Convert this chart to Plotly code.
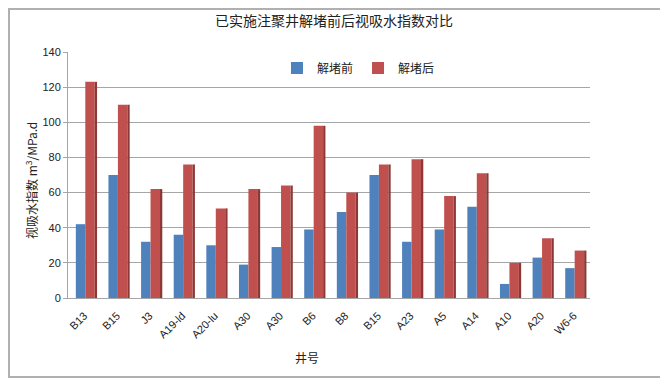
import plotly.graph_objects as go

wells = ["B13", "B15", "J3", "A19-ld", "A20-lu", "A30", "A30", "B6", "B8",
         "B15", "A23", "A5", "A14", "A10", "A20", "W6-6"]
before = [42, 70, 32, 36, 30, 19, 29, 39, 49, 70, 32, 39, 52, 8, 23, 17]
after = [123, 110, 62, 76, 51, 62, 64, 98, 60, 76, 79, 58, 71, 20, 34, 27]
y_ticks = [0, 20, 40, 60, 80, 100, 120, 140]

x = list(range(len(wells)))

# page is rendered with an 8px body margin; work in page pixels, convert to figure
OFF = 8
PW, PH = 668, 381
W, H = PW - OFF, PH - OFF
PL, PR, PT, PB = 68, 590, 52, 298   # plot area in page pixels
L, R, T, B = PL - OFF, W - (PR - OFF), PT - OFF, H - (PB - OFF)
pw, ph = PR - PL, PB - PT

def px_x(p):
    return (p - PL) / pw

def px_y(p):
    return (PB - p) / ph

BLUE = "#4F81BD"
RED = "#C0504D"
RED_D = "#8C3836"

fig = go.Figure()
fig.add_trace(go.Bar(x=x, y=before, name="解堵前", marker=dict(color=BLUE, line=dict(width=0)),
                     offset=-0.26, width=0.29))
fig.add_trace(go.Bar(x=x, y=after, name="解堵后", marker=dict(color=RED, line=dict(width=0)),
                     offset=0.03, width=0.29))
fig.add_trace(go.Bar(x=x, y=after, showlegend=False, hoverinfo="skip",
                     marker=dict(color=RED_D, line=dict(width=0)),
                     offset=0.32, width=0.07))

fig.update_layout(
    width=W, height=H,
    margin=dict(l=L, r=R, t=T, b=B),
    paper_bgcolor="white", plot_bgcolor="white",
    barmode="overlay",
    font=dict(family="Noto Sans CJK SC, Liberation Sans, sans-serif", color="#222222"),
    title=dict(text="已实施注聚井解堵前后视吸水指数对比", x=(334 - OFF) / W, xref="container",
               xanchor="center", y=1 - (21 - OFF) / H, yref="container", yanchor="middle",
               font=dict(size=14, color="#222222")),
    legend=dict(orientation="h", x=px_x(277), y=px_y(68), xanchor="left", yanchor="middle",
                bgcolor="rgba(0,0,0,0)", font=dict(size=12, color="#222222")),
    showlegend=True,
    xaxis=dict(range=[-0.5, len(wells) - 0.5], tickmode="array", tickvals=x, ticktext=wells,
               tickangle=-45, showgrid=False, showline=True, linecolor="#A6A6A6", linewidth=1,
               ticks="", zeroline=False, ticklabelstandoff=6,
               tickfont=dict(family="Liberation Sans, Arial, sans-serif", size=11, color="#222222")),
    yaxis=dict(range=[0, 140], tickmode="array", tickvals=y_ticks, showgrid=True,
               gridcolor="#A6A6A6", gridwidth=1, showline=True, linecolor="#A6A6A6",
               ticks="outside", ticklen=4, tickcolor="#A6A6A6", zeroline=False,
               tickfont=dict(family="Liberation Sans, Arial, sans-serif", size=11, color="#222222")),
)

fig.add_annotation(text="视吸水指数 m<sup>3</sup>/MPa.d", textangle=-90, xref="paper", yref="paper",
                   x=px_x(31), y=px_y(181), showarrow=False, xanchor="center", yanchor="middle",
                   font=dict(size=12, color="#222222"))
fig.add_annotation(text="井号", xref="paper", yref="paper", x=px_x(307), y=px_y(357),
                   showarrow=False, xanchor="center", yanchor="middle",
                   font=dict(size=12, color="#222222"))

fig.add_shape(type="rect", xref="paper", yref="paper",
              x0=px_x(9), x1=px_x(664), y0=px_y(377), y1=px_y(9),
              line=dict(color="#B0B0B0", width=2), layer="below")

fig.write_html("out.html")
